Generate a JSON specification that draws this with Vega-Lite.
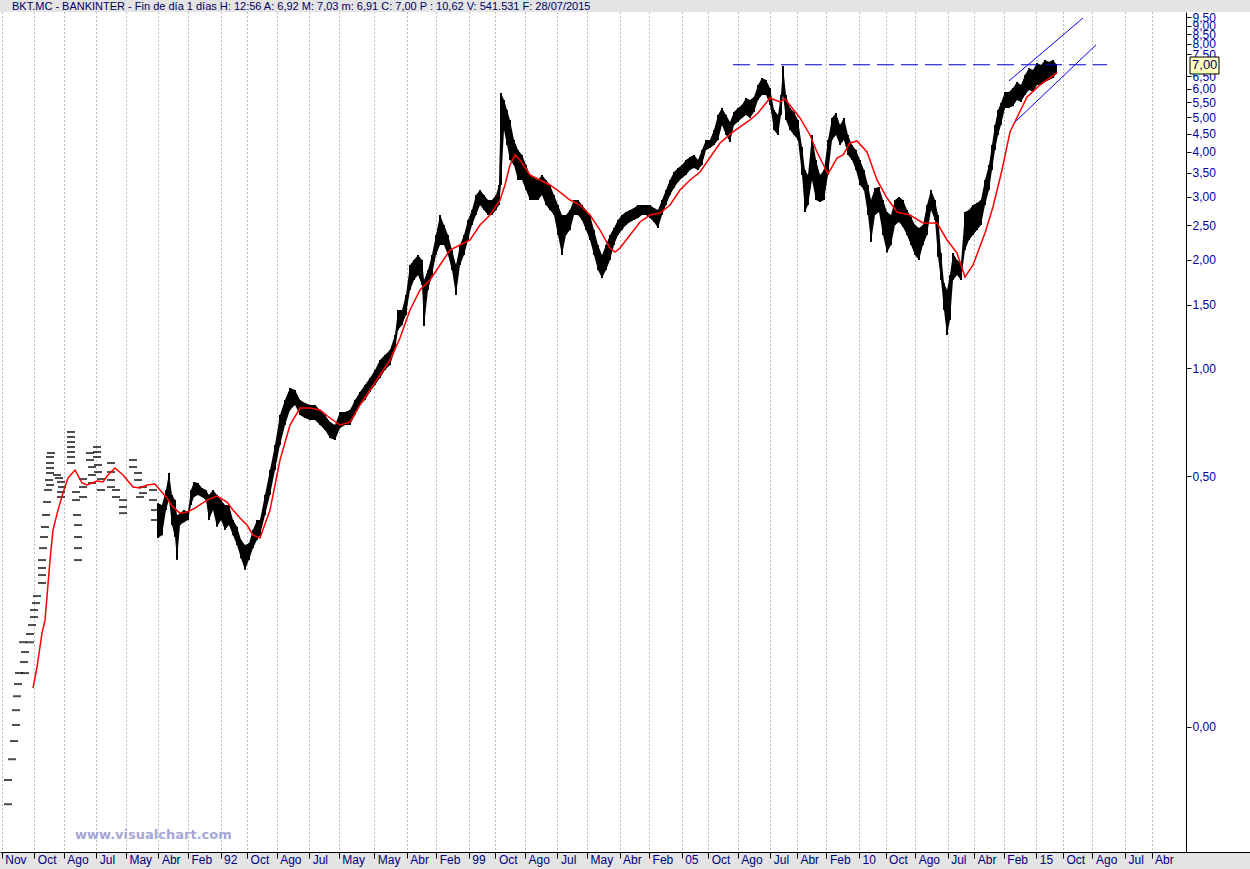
{
"$schema": "https://vega.github.io/schema/vega-lite/v6.json",
"width": 1250, "height": 840,
"autosize": {"type": "none"},
"padding": {"left": 0, "top": 12, "right": 0, "bottom": 17},
"background": "#e4e4e4",
"title": {"text": "BKT.MC - BANKINTER - Fin de día 1 días  H: 12:56  A: 6,92  M: 7,03  m: 6,91  C: 7,00  P : 10,62  V: 541.531  F: 28/07/2015", "anchor": "start", "frame": "group", "offset": 2, "baseline": "alphabetic", "fontSize": 11, "font": "Liberation Sans", "fontWeight": "normal", "color": "#000060", "dx": 12, "dy": 12},
"config": {"view": {"fill": "white", "stroke": null}, "font": "Liberation Sans"},
"datasets": {
"bars": [
{"t":1990.238,"v2":0.420,"v":0.336},{"t":1990.350,"v2":0.415,"v":0.342},{"t":1990.463,"v2":0.457,"v":0.402},{"t":1990.548,"v2":0.510,"v":0.429},{"t":1990.632,"v2":0.443,"v":0.365},{"t":1990.717,"v2":0.429,"v":0.338},{"t":1990.773,"v2":0.389,"v":0.292},{"t":1990.858,"v2":0.394,"v":0.365},{"t":1990.971,"v2":0.402,"v":0.372},{"t":1991.083,"v2":0.397,"v":0.377},{"t":1991.168,"v2":0.457,"v":0.415},{"t":1991.252,"v2":0.481,"v":0.437},{"t":1991.365,"v2":0.478,"v":0.443},{"t":1991.478,"v2":0.463,"v":0.437},{"t":1991.591,"v2":0.457,"v":0.429},{"t":1991.675,"v2":0.443,"v":0.377},{"t":1991.788,"v2":0.457,"v":0.402},{"t":1991.901,"v2":0.443,"v":0.361},{"t":1992.014,"v2":0.429,"v":0.377},{"t":1992.126,"v2":0.415,"v":0.354},{"t":1992.239,"v2":0.415,"v":0.365},{"t":1992.352,"v2":0.377,"v":0.342},{"t":1992.465,"v2":0.361,"v":0.321},{"t":1992.578,"v2":0.332,"v":0.295},{"t":1992.690,"v2":0.321,"v":0.274},{"t":1992.803,"v2":0.325,"v":0.292},{"t":1992.916,"v2":0.354,"v":0.315},{"t":1993.029,"v2":0.377,"v":0.332},{"t":1993.113,"v2":0.377,"v":0.342},{"t":1993.254,"v2":0.443,"v":0.389},{"t":1993.395,"v2":0.520,"v":0.443},{"t":1993.536,"v2":0.610,"v":0.520},{"t":1993.677,"v2":0.740,"v":0.610},{"t":1993.818,"v2":0.814,"v":0.694},{"t":1993.959,"v2":0.880,"v":0.764},{"t":1994.100,"v2":0.868,"v":0.789},{"t":1994.241,"v2":0.814,"v":0.740},{"t":1994.382,"v2":0.799,"v":0.726},{"t":1994.523,"v2":0.789,"v":0.716},{"t":1994.664,"v2":0.789,"v":0.716},{"t":1994.805,"v2":0.764,"v":0.694},{"t":1994.946,"v2":0.740,"v":0.672},{"t":1995.087,"v2":0.707,"v":0.638},{"t":1995.228,"v2":0.694,"v":0.630},{"t":1995.369,"v2":0.754,"v":0.680},{"t":1995.510,"v2":0.754,"v":0.694},{"t":1995.651,"v2":0.764,"v":0.694},{"t":1995.792,"v2":0.814,"v":0.740},{"t":1995.933,"v2":0.857,"v":0.789},{"t":1996.073,"v2":0.897,"v":0.814},{"t":1996.214,"v2":0.938,"v":0.857},{"t":1996.355,"v2":0.987,"v":0.897},{"t":1996.496,"v2":1.053,"v":0.938},{"t":1996.637,"v2":1.087,"v":0.987},{"t":1996.778,"v2":1.122,"v":1.019},{"t":1996.919,"v2":1.236,"v":1.122},{"t":1997.004,"v2":1.451,"v":1.276},{"t":1997.117,"v2":1.451,"v":1.318},{"t":1997.229,"v2":1.598,"v":1.405},{"t":1997.342,"v2":1.937,"v":1.650},{"t":1997.455,"v2":2.000,"v":1.759},{"t":1997.568,"v2":2.065,"v":1.816},{"t":1997.680,"v2":2.000,"v":1.703},{"t":1997.737,"v2":1.759,"v":1.309},{"t":1997.850,"v2":1.875,"v":1.650},{"t":1997.962,"v2":2.065,"v":1.816},{"t":1998.075,"v2":2.348,"v":2.065},{"t":1998.188,"v2":2.669,"v":2.202},{"t":1998.301,"v2":2.503,"v":2.202},{"t":1998.414,"v2":2.348,"v":2.065},{"t":1998.526,"v2":2.132,"v":1.875},{"t":1998.639,"v2":1.937,"v":1.598},{"t":1998.752,"v2":2.202,"v":1.937},{"t":1998.865,"v2":2.348,"v":2.065},{"t":1998.977,"v2":2.585,"v":2.274},{"t":1999.090,"v2":2.756,"v":2.503},{"t":1999.203,"v2":3.034,"v":2.669},{"t":1999.316,"v2":3.133,"v":2.846},{"t":1999.428,"v2":3.034,"v":2.756},{"t":1999.541,"v2":2.939,"v":2.669},{"t":1999.654,"v2":2.939,"v":2.669},{"t":1999.767,"v2":3.034,"v":2.756},{"t":1999.851,"v2":3.236,"v":2.846},{"t":1999.908,"v2":5.84,"v":3.236},{"t":1999.992,"v2":5.585,"v":4.607},{"t":2000.077,"v2":5.238,"v":4.184},{"t":2000.161,"v2":4.912,"v":3.80},{"t":2000.274,"v2":4.321,"v":3.68},{"t":2000.387,"v2":4.052,"v":3.342},{"t":2000.500,"v2":3.924,"v":3.342},{"t":2000.613,"v2":3.68,"v":3.133},{"t":2000.725,"v2":3.451,"v":2.939},{"t":2000.838,"v2":3.385,"v":2.939},{"t":2000.951,"v2":3.342,"v":2.939},{"t":2001.064,"v2":3.451,"v":3.034},{"t":2001.176,"v2":3.342,"v":2.846},{"t":2001.289,"v2":3.236,"v":2.756},{"t":2001.402,"v2":3.034,"v":2.669},{"t":2001.515,"v2":2.846,"v":2.348},{"t":2001.627,"v2":2.669,"v":2.065},{"t":2001.740,"v2":2.669,"v":2.348},{"t":2001.853,"v2":2.756,"v":2.424},{"t":2001.966,"v2":2.939,"v":2.669},{"t":2002.079,"v2":2.939,"v":2.669},{"t":2002.191,"v2":2.846,"v":2.585},{"t":2002.304,"v2":2.756,"v":2.424},{"t":2002.417,"v2":2.669,"v":2.274},{"t":2002.530,"v2":2.424,"v":2.065},{"t":2002.642,"v2":2.202,"v":1.875},{"t":2002.755,"v2":2.065,"v":1.781},{"t":2002.868,"v2":2.202,"v":1.875},{"t":2002.981,"v2":2.348,"v":2.0},{"t":2003.093,"v2":2.456,"v":2.202},{"t":2003.206,"v2":2.585,"v":2.348},{"t":2003.319,"v2":2.669,"v":2.424},{"t":2003.432,"v2":2.721,"v":2.503},{"t":2003.545,"v2":2.756,"v":2.552},{"t":2003.657,"v2":2.792,"v":2.585},{"t":2003.770,"v2":2.846,"v":2.618},{"t":2003.883,"v2":2.846,"v":2.669},{"t":2003.996,"v2":2.846,"v":2.669},{"t":2004.108,"v2":2.846,"v":2.618},{"t":2004.221,"v2":2.792,"v":2.552},{"t":2004.334,"v2":2.756,"v":2.456},{"t":2004.447,"v2":2.939,"v":2.669},{"t":2004.560,"v2":3.133,"v":2.846},{"t":2004.672,"v2":3.342,"v":3.034},{"t":2004.785,"v2":3.518,"v":3.173},{"t":2004.898,"v2":3.608,"v":3.297},{"t":2005.011,"v2":3.68,"v":3.385},{"t":2005.123,"v2":3.80,"v":3.451},{"t":2005.236,"v2":3.874,"v":3.563},{"t":2005.349,"v2":3.924,"v":3.608},{"t":2005.462,"v2":3.80,"v":3.563},{"t":2005.574,"v2":4.052,"v":3.68},{"t":2005.687,"v2":4.321,"v":4.052},{"t":2005.800,"v2":4.321,"v":4.104},{"t":2005.913,"v2":4.607,"v":4.184},{"t":2006.026,"v2":5.073,"v":4.321},{"t":2006.138,"v2":5.306,"v":4.757},{"t":2006.251,"v2":5.073,"v":4.461},{"t":2006.364,"v2":4.849,"v":4.266},{"t":2006.477,"v2":5.171,"v":4.757},{"t":2006.589,"v2":5.306,"v":4.849},{"t":2006.702,"v2":5.408,"v":4.974},{"t":2006.815,"v2":5.657,"v":5.073},{"t":2006.928,"v2":5.585,"v":4.974},{"t":2007.041,"v2":5.694,"v":5.171},{"t":2007.153,"v2":6.149,"v":5.585},{"t":2007.266,"v2":6.43,"v":5.767},{"t":2007.379,"v2":6.35,"v":5.767},{"t":2007.492,"v2":6.03,"v":5.408},{"t":2007.604,"v2":5.238,"v":4.607},{"t":2007.717,"v2":5.073,"v":4.461},{"t":2007.802,"v2":5.767,"v":5.073},{"t":2007.858,"v2":6.947,"v":5.767},{"t":2007.943,"v2":5.767,"v":4.912},{"t":2008.056,"v2":5.306,"v":4.607},{"t":2008.168,"v2":5.171,"v":4.461},{"t":2008.281,"v2":4.912,"v":4.321},{"t":2008.394,"v2":4.131,"v":3.451},{"t":2008.478,"v2":3.563,"v":2.721},{"t":2008.563,"v2":3.451,"v":2.846},{"t":2008.676,"v2":4.461,"v":3.342},{"t":2008.789,"v2":3.80,"v":2.939},{"t":2008.901,"v2":3.451,"v":2.902},{"t":2009.014,"v2":3.563,"v":2.939},{"t":2009.127,"v2":4.321,"v":3.451},{"t":2009.240,"v2":4.974,"v":4.321},{"t":2009.352,"v2":5.138,"v":4.461},{"t":2009.465,"v2":4.757,"v":4.184},{"t":2009.578,"v2":4.974,"v":4.321},{"t":2009.691,"v2":4.461,"v":3.924},{"t":2009.803,"v2":4.184,"v":3.80},{"t":2009.916,"v2":4.052,"v":3.563},{"t":2010.029,"v2":3.80,"v":3.236},{"t":2010.142,"v2":3.563,"v":3.133},{"t":2010.255,"v2":3.236,"v":2.669},{"t":2010.339,"v2":2.939,"v":2.246},{"t":2010.452,"v2":3.173,"v":2.669},{"t":2010.565,"v2":3.194,"v":2.721},{"t":2010.677,"v2":2.939,"v":2.348},{"t":2010.790,"v2":2.721,"v":2.10},{"t":2010.903,"v2":2.669,"v":2.202},{"t":2011.016,"v2":2.939,"v":2.503},{"t":2011.128,"v2":2.996,"v":2.552},{"t":2011.241,"v2":2.939,"v":2.471},{"t":2011.354,"v2":2.756,"v":2.348},{"t":2011.467,"v2":2.635,"v":2.202},{"t":2011.580,"v2":2.503,"v":2.065},{"t":2011.692,"v2":2.456,"v":2.0},{"t":2011.805,"v2":2.503,"v":2.202},{"t":2011.918,"v2":2.846,"v":2.348},{"t":2012.031,"v2":3.133,"v":2.756},{"t":2012.143,"v2":2.939,"v":2.585},{"t":2012.228,"v2":2.669,"v":2.04},{"t":2012.313,"v2":2.092,"v":1.759},{"t":2012.397,"v2":1.726,"v":1.451},{"t":2012.482,"v2":1.650,"v":1.236},{"t":2012.566,"v2":1.816,"v":1.361},{"t":2012.651,"v2":2.092,"v":1.759},{"t":2012.764,"v2":2.0,"v":1.816},{"t":2012.876,"v2":1.962,"v":1.759},{"t":2012.989,"v2":2.721,"v":2.132},{"t":2013.102,"v2":2.756,"v":2.274},{"t":2013.215,"v2":2.846,"v":2.348},{"t":2013.328,"v2":2.883,"v":2.424},{"t":2013.440,"v2":2.939,"v":2.503},{"t":2013.553,"v2":3.342,"v":2.846},{"t":2013.666,"v2":3.68,"v":3.133},{"t":2013.750,"v2":4.184,"v":3.563},{"t":2013.835,"v2":4.757,"v":4.052},{"t":2013.920,"v2":5.238,"v":4.461},{"t":2014.004,"v2":5.48,"v":4.757},{"t":2014.117,"v2":5.88,"v":5.306},{"t":2014.230,"v2":5.88,"v":5.306},{"t":2014.342,"v2":6.03,"v":5.37},{"t":2014.455,"v2":6.27,"v":5.585},{"t":2014.568,"v2":6.149,"v":5.513},{"t":2014.681,"v2":6.557,"v":5.767},{"t":2014.794,"v2":6.86,"v":5.955},{"t":2014.906,"v2":6.771,"v":5.88},{"t":2015.019,"v2":7.08,"v":6.149},{"t":2015.132,"v2":6.992,"v":6.149},{"t":2015.245,"v2":7.22,"v":6.27},{"t":2015.357,"v2":7.13,"v":6.35},{"t":2015.470,"v2":7.22,"v":6.43},{"t":2015.555,"v2":7.03,"v":6.6}
],
"early": [
{"t":1986.009,"v":0.0609},{"t":1986.009,"v":0.0711},{"t":1986.121,"v":0.0813},{"t":1986.178,"v":0.0913},{"t":1986.234,"v":0.1012},{"t":1986.234,"v":0.1113},{"t":1986.262,"v":0.1218},{"t":1986.290,"v":0.1316},{"t":1986.319,"v":0.1412},{"t":1986.488,"v":0.1412},{"t":1986.460,"v":0.1516},{"t":1986.488,"v":0.1616},{"t":1986.431,"v":0.1722},{"t":1986.629,"v":0.1722},{"t":1986.629,"v":0.1814},{"t":1986.685,"v":0.1922},{"t":1986.742,"v":0.2023},{"t":1986.742,"v":0.2116},{"t":1986.798,"v":0.2213},{"t":1986.826,"v":0.2315},{"t":1986.967,"v":0.2517},{"t":1986.967,"v":0.2649},{"t":1986.967,"v":0.2771},{"t":1986.967,"v":0.2916},{"t":1986.995,"v":0.3149},{"t":1987.023,"v":0.3381},{"t":1987.052,"v":0.3605},{"t":1987.080,"v":0.3894},{"t":1987.108,"v":0.4232},{"t":1987.136,"v":0.4571},{"t":1987.164,"v":0.4874},{"t":1987.193,"v":0.5098},{"t":1987.193,"v":0.5264},{"t":1987.193,"v":0.5436},{"t":1987.193,"v":0.5649},{"t":1987.221,"v":0.5797},{"t":1987.193,"v":0.4720},{"t":1987.390,"v":0.5033},{"t":1987.446,"v":0.4937},{"t":1987.503,"v":0.4812},{"t":1987.531,"v":0.4659},{"t":1987.503,"v":0.4512},{"t":1987.503,"v":0.4370},{"t":1987.785,"v":0.6633},{"t":1987.785,"v":0.6423},{"t":1987.785,"v":0.6221},{"t":1987.785,"v":0.6024},{"t":1987.785,"v":0.5833},{"t":1987.785,"v":0.5649},{"t":1987.785,"v":0.5436},{"t":1987.926,"v":0.4512},{"t":1987.926,"v":0.4286},{"t":1987.954,"v":0.3894},{"t":1987.982,"v":0.3651},{"t":1987.982,"v":0.3381},{"t":1987.982,"v":0.3149},{"t":1987.982,"v":0.2916},{"t":1988.123,"v":0.4905},{"t":1988.123,"v":0.4659},{"t":1988.123,"v":0.4370},{"t":1988.377,"v":0.5298},{"t":1988.377,"v":0.5033},{"t":1988.377,"v":0.4781},{"t":1988.320,"v":0.5797},{"t":1988.320,"v":0.5542},{"t":1988.518,"v":0.6024},{"t":1988.518,"v":0.5833},{"t":1988.518,"v":0.5649},{"t":1988.546,"v":0.5367},{"t":1988.546,"v":0.5130},{"t":1988.630,"v":0.4905},{"t":1988.630,"v":0.4571},{"t":1988.912,"v":0.5436},{"t":1988.912,"v":0.5130},{"t":1988.912,"v":0.4874},{"t":1988.912,"v":0.4659},{"t":1989.053,"v":0.4571},{"t":1989.053,"v":0.4370},{"t":1989.251,"v":0.4286},{"t":1989.251,"v":0.4099},{"t":1989.251,"v":0.3940},{"t":1989.533,"v":0.5542},{"t":1989.533,"v":0.5298},{"t":1989.674,"v":0.5098},{"t":1989.674,"v":0.4874},{"t":1989.815,"v":0.4659},{"t":1989.815,"v":0.4483},{"t":1989.730,"v":0.4370},{"t":1990.097,"v":0.4571},{"t":1990.097,"v":0.4286},{"t":1990.153,"v":0.4019},{"t":1990.153,"v":0.3771}
],
"ma": [
{"t":1986.713,"v":0.1283},{"t":1986.826,"v":0.1468},{"t":1986.967,"v":0.1826},{"t":1987.052,"v":0.1984},{"t":1987.193,"v":0.2916},{"t":1987.277,"v":0.3536},{"t":1987.418,"v":0.4019},{"t":1987.559,"v":0.4483},{"t":1987.700,"v":0.4937},{"t":1987.898,"v":0.5196},{"t":1988.095,"v":0.4781},{"t":1988.236,"v":0.4720},{"t":1988.518,"v":0.4843},{"t":1988.687,"v":0.4812},{"t":1988.828,"v":0.5033},{"t":1989.025,"v":0.5264},{"t":1989.251,"v":0.5033},{"t":1989.533,"v":0.4659},{"t":1989.730,"v":0.4630},{"t":1989.927,"v":0.4720},{"t":1990.153,"v":0.4751},{"t":1990.294,"v":0.4571},{"t":1990.491,"v":0.4342},{"t":1990.660,"v":0.4099},{"t":1990.858,"v":0.394},{"t":1991.055,"v":0.397},{"t":1991.281,"v":0.4071},{"t":1991.619,"v":0.4286},{"t":1991.901,"v":0.4398},{"t":1992.183,"v":0.4232},{"t":1992.352,"v":0.4019},{"t":1992.549,"v":0.3820},{"t":1992.747,"v":0.3651},{"t":1992.916,"v":0.3424},{"t":1993.113,"v":0.3359},{"t":1993.395,"v":0.4019},{"t":1993.677,"v":0.5542},{"t":1993.959,"v":0.6936},{"t":1994.241,"v":0.7737},{"t":1994.523,"v":0.7737},{"t":1994.805,"v":0.7637},{"t":1995.087,"v":0.7256},{"t":1995.369,"v":0.6936},{"t":1995.651,"v":0.707},{"t":1995.933,"v":0.7888},{"t":1996.214,"v":0.8684},{"t":1996.496,"v":0.9561},{"t":1996.778,"v":1.0527},{"t":1997.060,"v":1.2122},{"t":1997.342,"v":1.4508},{"t":1997.624,"v":1.6495},{"t":1997.906,"v":1.7588},{"t":1998.188,"v":1.9365},{"t":1998.470,"v":2.132},{"t":1998.752,"v":2.202},{"t":1999.034,"v":2.274},{"t":1999.316,"v":2.503},{"t":1999.598,"v":2.669},{"t":1999.880,"v":2.939},{"t":2000.020,"v":3.236},{"t":2000.161,"v":3.68},{"t":2000.303,"v":3.924},{"t":2000.444,"v":3.80},{"t":2000.725,"v":3.451},{"t":2001.007,"v":3.342},{"t":2001.289,"v":3.236},{"t":2001.571,"v":3.093},{"t":2001.853,"v":2.939},{"t":2002.135,"v":2.846},{"t":2002.417,"v":2.669},{"t":2002.699,"v":2.424},{"t":2002.981,"v":2.16},{"t":2003.122,"v":2.105},{"t":2003.263,"v":2.16},{"t":2003.545,"v":2.348},{"t":2003.827,"v":2.552},{"t":2004.108,"v":2.669},{"t":2004.390,"v":2.704},{"t":2004.672,"v":2.846},{"t":2004.954,"v":3.133},{"t":2005.236,"v":3.342},{"t":2005.518,"v":3.517},{"t":2006.082,"v":4.238},{"t":2006.448,"v":4.548},{"t":2006.928,"v":4.912},{"t":2007.153,"v":5.137},{"t":2007.492,"v":5.656},{"t":2007.774,"v":5.513},{"t":2007.915,"v":5.62},{"t":2008.337,"v":4.976},{"t":2008.619,"v":4.461},{"t":2008.816,"v":4.0},{"t":2009.127,"v":3.473},{"t":2009.381,"v":3.848},{"t":2009.550,"v":3.924},{"t":2009.747,"v":4.238},{"t":2009.944,"v":4.293},{"t":2010.226,"v":4.0},{"t":2010.508,"v":3.342},{"t":2010.790,"v":2.977},{"t":2011.072,"v":2.721},{"t":2011.438,"v":2.669},{"t":2011.805,"v":2.536},{"t":2012.200,"v":2.536},{"t":2012.482,"v":2.274},{"t":2012.764,"v":2.092},{"t":2012.989,"v":1.793},{"t":2013.215,"v":1.9365},{"t":2013.553,"v":2.378},{"t":2013.778,"v":2.81},{"t":2014.032,"v":3.563},{"t":2014.258,"v":4.548},{"t":2014.737,"v":5.692},{"t":2015.103,"v":6.149},{"t":2015.583,"v":6.64}
],
"resist": [{"t":2006.449,"t2":2016.993,"v":7.0}],
"channel": [{"g":"sup","t":2014.23,"v":6.31},{"g":"sup","t":2016.316,"v":9.45},{"g":"inf","t":2014.399,"v":4.85},{"g":"inf","t":2016.682,"v":7.95}],
"lastbox": [{"t":2019.333,"t2":2020.15,"v":6.597,"v2":7.357}],
"lastlab": [{"t":2019.39,"v":7.0,"label":"7,00"}],
"wm": [{"t":1987.897,"v":0.0499,"label":"www.visualchart.com"}]
},
"encoding": {
"x": {"field": "t", "type": "quantitative", "scale": {"domain": [1985.783, 2021.024], "nice": false, "zero": false},
"axis": {"orient": "bottom", "title": null,
"values": [1985.8333,1986.75,1987.5833,1988.5,1989.3333,1990.25,1991.0833,1992,1992.75,1993.5833,1994.5,1995.3333,1996.3333,1997.25,1998.0833,1999,1999.75,2000.5833,2001.5,2002.3333,2003.25,2004.0833,2005,2005.75,2006.5833,2007.5,2008.25,2009.0833,2010,2010.75,2011.5833,2012.5,2013.25,2014.0833,2015,2015.75,2016.5833,2017.5,2018.25],
"labelExpr": "round((datum.value - floor(datum.value))*12) == 0 ? format(floor(datum.value) % 100, '02d') : ['Ene','Feb','Mar','Abr','May','Jun','Jul','Ago','Sep','Oct','Nov','Dic'][round((datum.value - floor(datum.value))*12)]",
"grid": true, "gridColor": "#7a7a7a", "gridDash": [1, 3], "gridWidth": 1,
"domain": true, "domainColor": "#000000", "domainWidth": 1,
"ticks": true, "tickColor": "#000000", "tickSize": 6,
"labelAlign": "left", "labelBaseline": "top", "labelPadding": -4, "labelOffset": 3,
"labelFont": "Liberation Sans", "labelFontSize": 12, "labelColor": "#000080",
"labelOverlap": false, "labelBound": false, "labelFlush": false}},
"y": {"field": "v", "type": "quantitative", "scale": {"type": "log", "domain": [0.0448, 9.82], "nice": false},
"axis": {"orient": "right", "offset": -64, "title": null,
"values": [0.1, 0.5, 1, 1.5, 2, 2.5, 3, 3.5, 4, 4.5, 5, 5.5, 6, 6.5, 7.5, 8, 8.5, 9, 9.5],
"labelExpr": "datum.value < 0.2 ? '0,00' : replace(format(datum.value, '.2f'), '.', ',')",
"grid": false, "domain": true, "domainColor": "#000000", "domainWidth": 1,
"ticks": true, "tickColor": "#000000", "tickSize": 5,
"labelFont": "Liberation Sans", "labelFontSize": 12, "labelColor": "#0000a0", "labelPadding": 1,
"labelOverlap": false, "labelBound": false, "labelFlush": false}}
},
"layer": [
{"data": {"name": "bars"}, "mark": {"type": "area", "color": "#000000"}, "encoding": {"y2": {"field": "v2"}}},
{"data": {"name": "bars"}, "mark": {"type": "rule", "color": "#000000", "strokeWidth": 2}, "encoding": {"y2": {"field": "v2"}}},
{"data": {"name": "early"}, "mark": {"type": "tick", "orient": "horizontal", "size": 8, "thickness": 2, "color": "#000000"}},
{"data": {"name": "ma"}, "mark": {"type": "line", "color": "#ff0000", "strokeWidth": 1.5}},
{"data": {"name": "resist"}, "mark": {"type": "rule", "color": "#0000d0", "strokeWidth": 1, "strokeDash": [17, 7]}, "encoding": {"x2": {"field": "t2"}}},
{"data": {"name": "channel"}, "mark": {"type": "line", "color": "#0000ff", "strokeWidth": 1}, "encoding": {"detail": {"field": "g"}}},
{"data": {"name": "lastbox"}, "mark": {"type": "rect", "fill": "#ffffc0", "stroke": "#000000", "strokeWidth": 1}, "encoding": {"x2": {"field": "t2"}, "y2": {"field": "v2"}}},
{"data": {"name": "lastlab"}, "mark": {"type": "text", "align": "left", "baseline": "middle", "font": "Liberation Sans", "fontSize": 13, "color": "#000050"}, "encoding": {"text": {"field": "label"}}},
{"data": {"name": "wm"}, "mark": {"type": "text", "align": "left", "baseline": "middle", "font": "DejaVu Sans", "fontSize": 13, "fontWeight": "bold", "color": "#a6a6d6"}, "encoding": {"text": {"field": "label"}}}
]
}
